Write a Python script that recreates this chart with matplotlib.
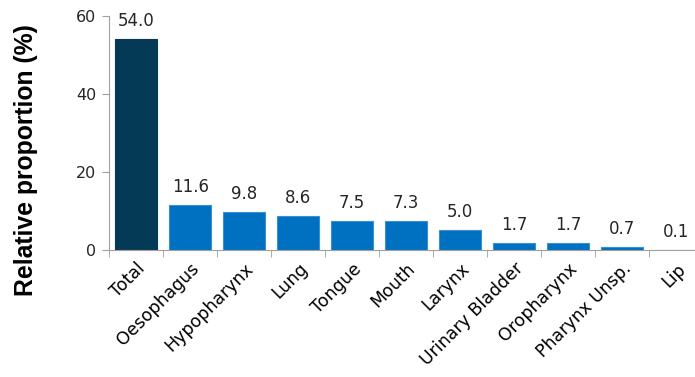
import matplotlib
matplotlib.use('Agg')
import matplotlib.pyplot as plt
import numpy as np

categories = ["Total", "Oesophagus", "Hypopharynx", "Lung", "Tongue", "Mouth",
              "Larynx", "Urinary Bladder", "Oropharynx", "Pharynx Unsp.", "Lip"]
values = [54.0, 11.6, 9.8, 8.6, 7.5, 7.3, 5.0, 1.7, 1.7, 0.7, 0.1]
yticks = [0, 20, 40, 60]

DARK = '#053A56'
BLUE = '#0070C0'
FONT = 'DejaVu Sans'

fig = plt.figure(figsize=(6.95, 3.77), dpi=100)
ax = fig.add_axes([0.157, 0.337, 0.855, 0.621])

x = np.arange(len(categories))
colors = [DARK] + [BLUE] * (len(categories) - 1)
edges = [DARK] + ['#3C8FD0'] * (len(categories) - 1)
ax.bar(x, values, width=0.78, color=colors, edgecolor=edges, linewidth=0.8, zorder=2)

for xi, v in zip(x, values):
    ax.text(xi, v + 2.3, f"{v:.1f}", ha='center', va='bottom',
            fontsize=12, family=FONT, color='#262626')

ax.set_xlim(-0.5, len(categories) - 0.5)
ax.set_ylim(0, 60)
ax.set_yticks(yticks)
ax.set_yticklabels([str(t) for t in yticks], fontsize=11.5, family=FONT, color='#262626')

ax.set_xticks(x)
ax.set_xticklabels(categories, rotation=45, ha='right', va='top',
                   rotation_mode='anchor', fontsize=12.5, family=FONT, color='black')
ax.tick_params(axis='x', length=0, pad=7)
# tick marks between categories
ax.set_xticks(np.arange(-0.5, len(categories), 1.0), minor=True)
ax.tick_params(axis='x', which='minor', length=5, color='#A0A0A0', direction='out')
ax.tick_params(axis='y', length=5, color='#A0A0A0', direction='out', pad=4)

for s in ['top', 'right']:
    ax.spines[s].set_visible(False)
ax.spines['left'].set_color('#A0A0A0')
ax.spines['bottom'].set_color('#A0A0A0')

# y label sits a bit lower than the axes centre in the original
fig.text(26 / 695, 1 - 160 / 377, "Relative proportion (%)", rotation=90,
         ha='center', va='center', fontsize=17.8, fontweight='bold',
         family='Liberation Sans')

fig.savefig('out.png', dpi=100)
